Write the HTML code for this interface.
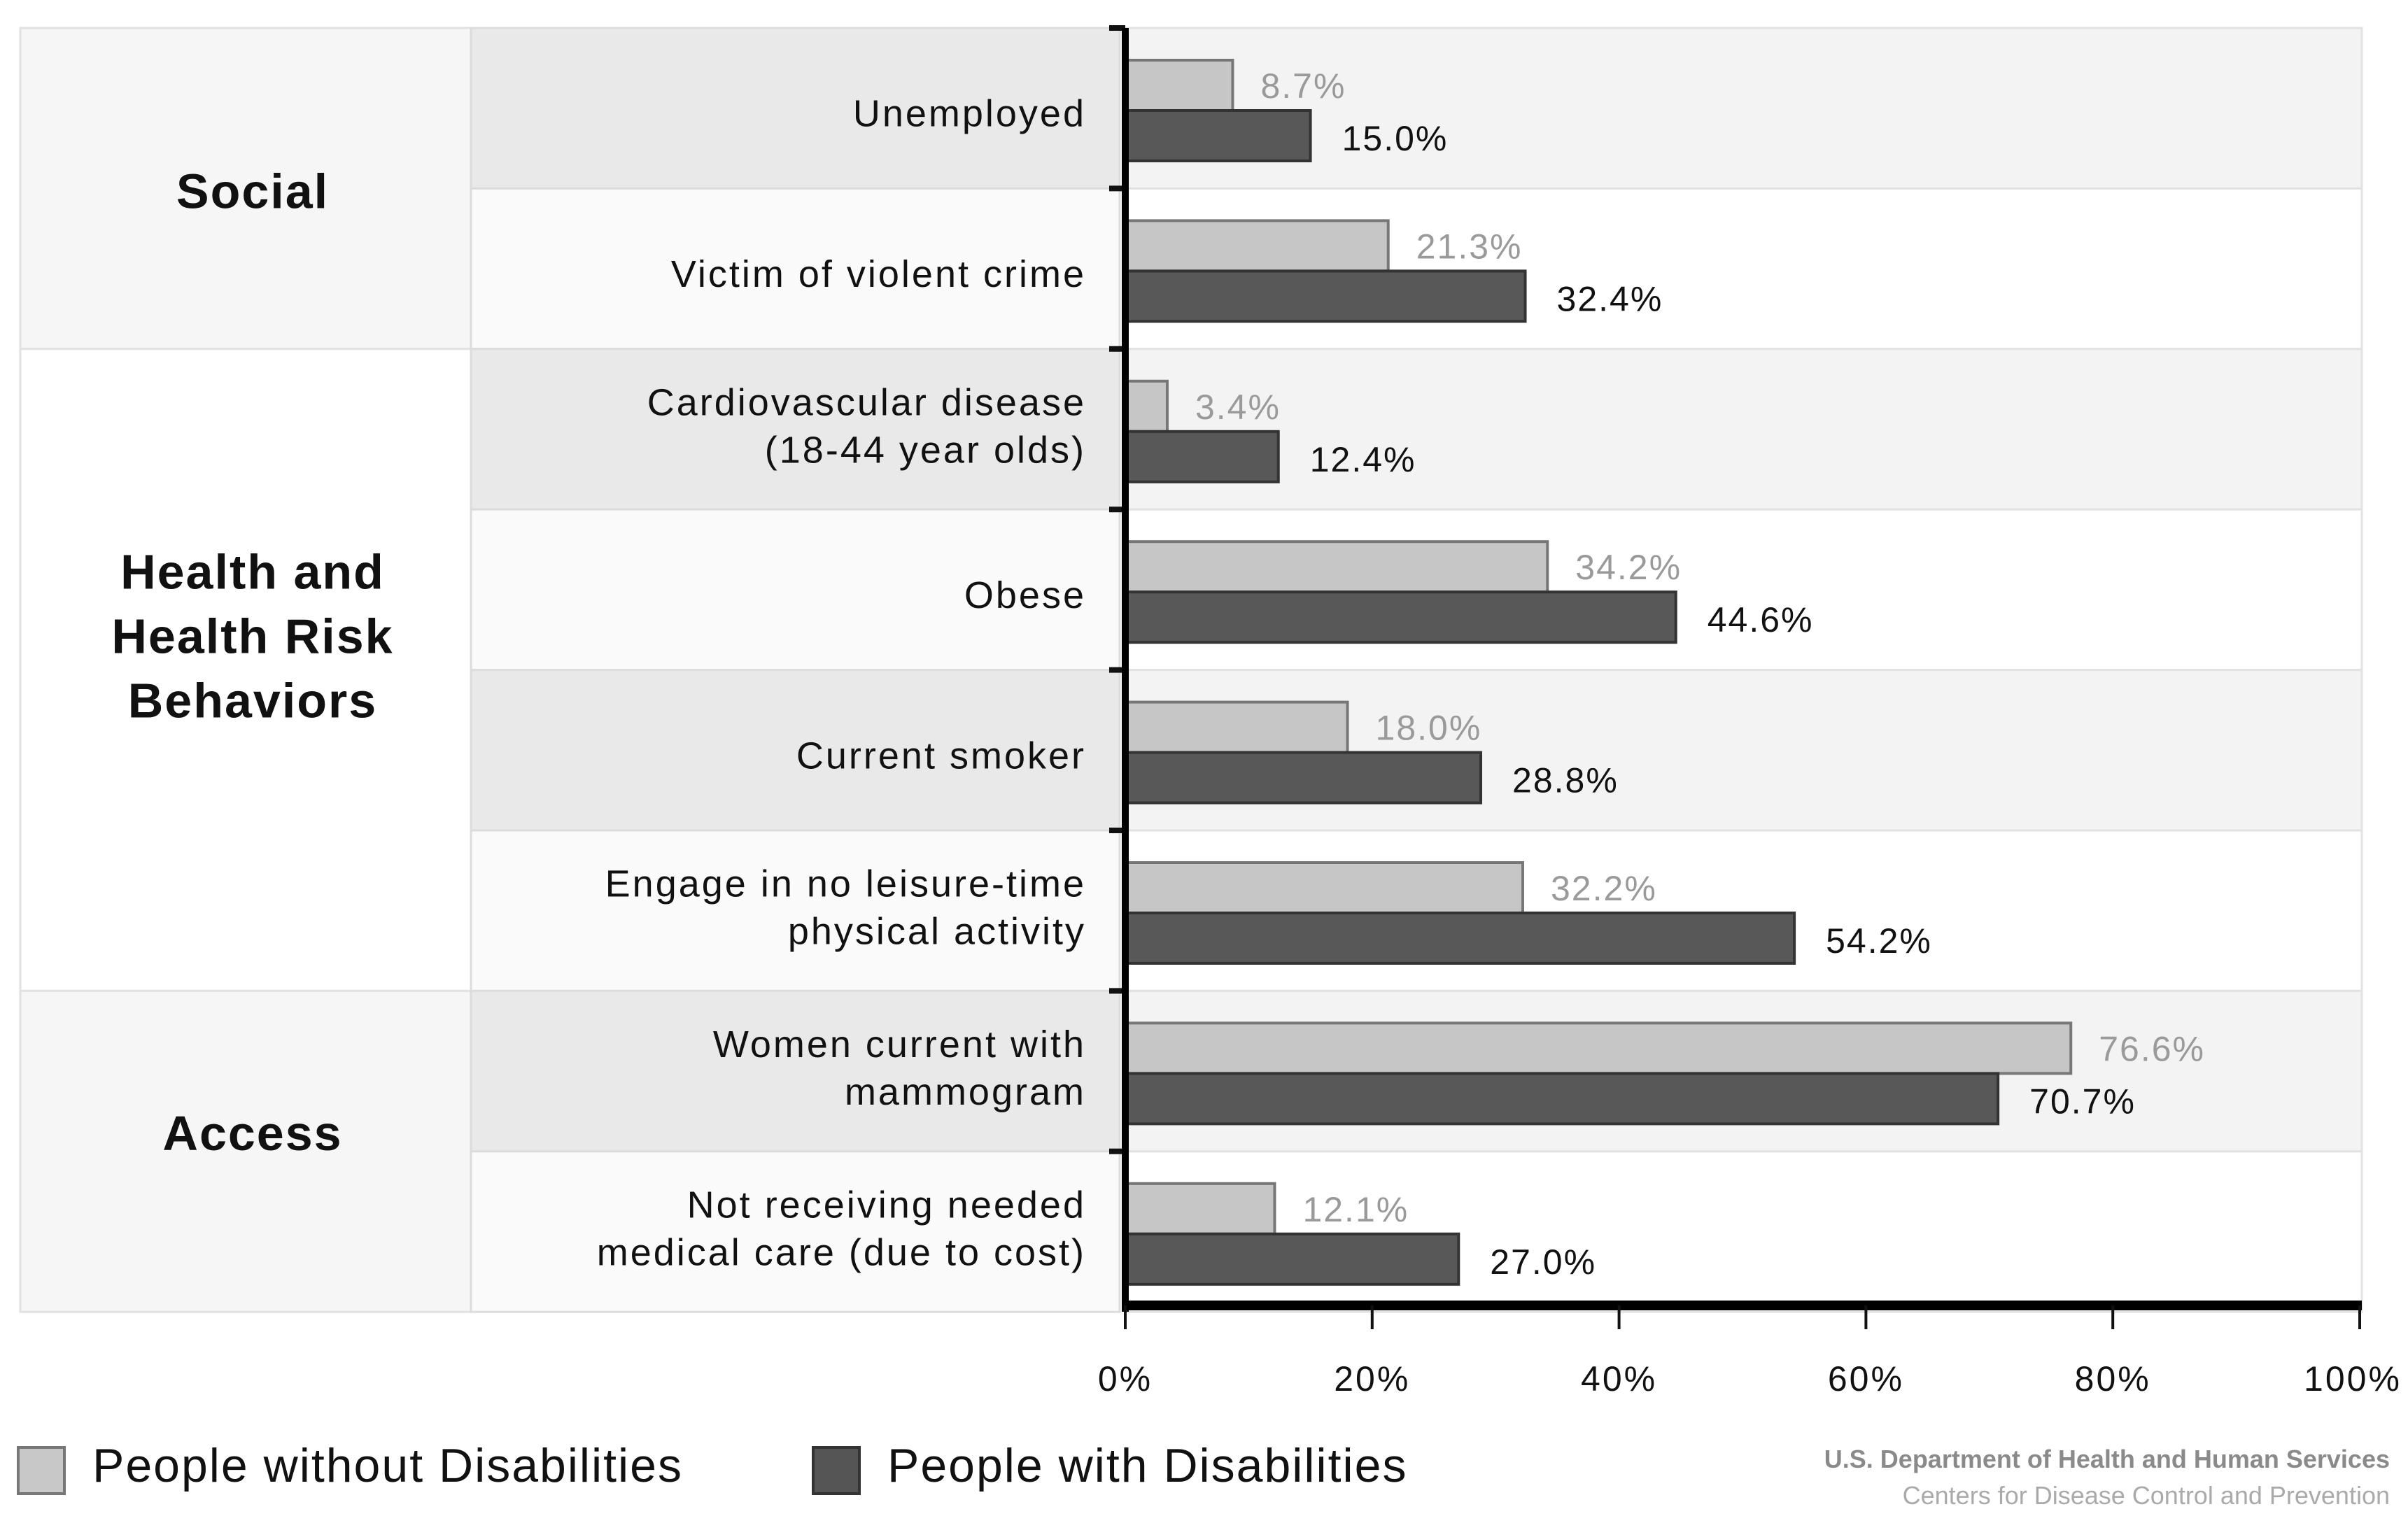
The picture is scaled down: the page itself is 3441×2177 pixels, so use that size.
<!DOCTYPE html>
<html><head><meta charset="utf-8"><style>
html,body{margin:0;padding:0;background:#fff;}
svg{display:block;font-family:"Liberation Sans",sans-serif;}
</style></head><body>
<svg id="chart" width="3441" height="2177" viewBox="0 0 3441 2177" xmlns="http://www.w3.org/2000/svg">
<g id="bg"></g><g id="bars"></g><g id="axis"></g>
<g>
<rect x="26" y="2069" width="66" height="66" fill="#c8c8c8" stroke="#777" stroke-width="4"/>
<text x="132" y="2118" font-size="68" letter-spacing="2" fill="#111">People without Disabilities</text>
<rect x="1162" y="2069" width="66" height="66" fill="#555" stroke="#333" stroke-width="4"/>
<text x="1268" y="2118" font-size="68" letter-spacing="2" fill="#111">People with Disabilities</text>
</g>
<text x="3415" y="2098" font-size="36" font-weight="bold" text-anchor="end" fill="#8a8a8a">U.S. Department of Health and Human Services</text>
<text x="3415" y="2150" font-size="36" text-anchor="end" fill="#aaa">Centers for Disease Control and Prevention</text>
</svg>
<script>
const categories=[["Unemployed"],["Victim of violent crime"],["Cardiovascular disease","(18-44 year olds)"],["Obese"],["Current smoker"],["Engage in no leisure-time","physical activity"],["Women current with","mammogram"],["Not receiving needed","medical care (due to cost)"]];
const withoutDis=[8.7,21.3,3.4,34.2,18.0,32.2,76.6,12.1];
const withDis=[15.0,32.4,12.4,44.6,28.8,54.2,70.7,27.0];
const ticks=[0,20,40,60,80,100];
const groups=[{name:["Social"],start:0,end:2,dy:4},{name:["Health and","Health Risk","Behaviors"],start:2,end:6,dy:-48},{name:["Access"],start:6,end:8,dy:-26}];
const NS="http://www.w3.org/2000/svg";
const X0=1608,X1=3372,TOP=40,RH=229.4;
const x=v=>X0+(X1-X0)*v/100;
const y=i=>TOP+RH*i;
function mk(tag,attrs,parent,txt){const e=document.createElementNS(NS,tag);for(const k in attrs)e.setAttribute(k,attrs[k]);if(txt!==undefined)e.textContent=txt;parent.appendChild(e);return e;}
const bg=document.getElementById('bg'),bars=document.getElementById('bars'),axis=document.getElementById('axis');
groups.forEach((g,gi)=>{
 const r=mk('rect',{x:29,y:y(g.start),width:644,height:y(g.end)-y(g.start),fill:gi===1?'#fff':'#f6f6f6',stroke:'#e2e2e2','stroke-width':3},bg);
 
 
 const cy=(y(g.start)+y(g.end))/2+g.dy, lh=92, n=g.name.length;
 g.name.forEach((t,k)=>{const tx=mk('text',{x:361,y:cy+(k-(n-1)/2)*lh+24,'font-size':70,'font-weight':'bold','text-anchor':'middle',fill:'#111','letter-spacing':2},bg,t);
 
 });
});
categories.forEach((c,i)=>{
 const shade=i%2===0;
 const lr=mk('rect',{x:673,y:y(i),width:927,height:RH,fill:shade?'#e9e9e9':'#fafafa',stroke:'#dcdcdc','stroke-width':3},bg);
 
 
 const pr=mk('rect',{x:1608,y:y(i),width:1767,height:RH,fill:shade?'#f3f3f3':'#fff',stroke:'#e2e2e2','stroke-width':3},bg);
 
 
 const n=c.length,cy=y(i)+RH/2+(n===1?8:-4);
 c.forEach((t,k)=>{const tx=mk('text',{x:1552,y:cy+(k-(n-1)/2)*68+18,'font-size':54,'text-anchor':'end',fill:'#111','letter-spacing':3},bg,t);
 
 });
 const tk=mk('line',{x1:1585,x2:1608,y1:y(i),y2:y(i),stroke:'#111','stroke-width':8},axis);
 
 
 const b1=mk('rect',{x:x(0),y:y(i)+46,width:x(withoutDis[i])-x(0),height:72,fill:'#c6c6c6',stroke:'#777','stroke-width':4},bars);
 
 
 const b2=mk('rect',{x:x(0),y:y(i)+118,width:x(withDis[i])-x(0),height:72,fill:'#585858',stroke:'#333','stroke-width':4},bars);
 
 
 const l1=mk('text',{x:x(withoutDis[i])+40,y:y(i)+100,'font-size':50,fill:'#9a9a9a','letter-spacing':2},bars,withoutDis[i].toFixed(1)+'%');
 
 
 const l2=mk('text',{x:x(withDis[i])+45,y:y(i)+175,'font-size':50,fill:'#111','letter-spacing':2},bars,withDis[i].toFixed(1)+'%');
 
 
});
const ya=mk('line',{x1:X0,x2:X0,y1:TOP,y2:1875,stroke:'#000','stroke-width':10},axis);


const xa=mk('line',{x1:X0-5,x2:X1+3,y1:1866,y2:1866,stroke:'#000','stroke-width':14},axis);


ticks.forEach(t=>{
 const l=mk('line',{x1:x(t),x2:x(t),y1:1866,y2:1900,stroke:'#111','stroke-width':4},axis);
 
 
 const tx=mk('text',{x:t===100?x(t)-10:x(t),y:1988,'font-size':50,'text-anchor':'middle',fill:'#111','letter-spacing':3},axis,t+'%');
 
 
});
</script>
</body></html>
